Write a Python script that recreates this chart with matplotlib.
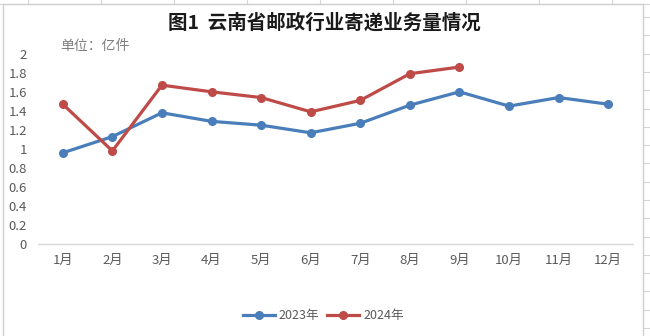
import numpy as np
import matplotlib.pyplot as plt
from matplotlib.lines import Line2D

plt.rcParams['font.family'] = ['Noto Sans CJK SC', 'DejaVu Sans']

# 云南省邮政行业寄递业务量（亿件）
months = ['1月', '2月', '3月', '4月', '5月', '6月',
          '7月', '8月', '9月', '10月', '11月', '12月']
vol_2023 = [0.96, 1.13, 1.38, 1.29, 1.25, 1.17, 1.27, 1.46, 1.60, 1.45, 1.54, 1.47]
vol_2024 = [1.47, 0.98, 1.67, 1.60, 1.54, 1.39, 1.51, 1.79, 1.86]
y_ticks = [0, 0.2, 0.4, 0.6, 0.8, 1, 1.2, 1.4, 1.6, 1.8, 2]

blue = '#4a7ebb'
red = '#be4b48'
grey_text = '#595959'

W, H = 650, 336
fig = plt.figure(figsize=(W / 100, H / 100), dpi=100)

# 工作表网格线（图表框外侧）
grid_c = '#d4d4d4'
for gx in [28, 101, 174, 247, 320, 393, 466, 539, 612]:
    fig.add_artist(Line2D([gx / W, gx / W], [1, 1 - 4 / H], color=grid_c, lw=0.8))
for gy in np.arange(17, H, 18.3):
    fig.add_artist(Line2D([644 / W, 1], [1 - gy / H, 1 - gy / H], color=grid_c, lw=0.8))
fig.add_artist(Line2D([0, 1], [1 - 4 / H, 1 - 4 / H], color=grid_c, lw=0.8))

# 图表边框
bc = '#d0d0d0'
fig.add_artist(Line2D([3 / W, 3 / W], [0, 1 - 4 / H], color=bc, lw=1))
fig.add_artist(Line2D([643 / W, 643 / W], [0, 1 - 4 / H], color=bc, lw=1))
fig.add_artist(Line2D([3 / W, 643 / W], [1 - 4 / H, 1 - 4 / H], color=bc, lw=1))

ax = fig.add_axes([38 / W, 1 - 244.3 / H, 595 / W, 190.6 / H])
x = np.arange(len(months))
ax.plot(x, vol_2023, color=blue, lw=2.3, marker='o', ms=5.5, label='2023年')
ax.plot(x[:len(vol_2024)], vol_2024, color=red, lw=2.3, marker='o', ms=5.5, label='2024年')

ax.set_xlim(-0.5, len(months) - 0.5)
ax.set_ylim(0, 2)
ax.set_xticks(x)
ax.set_xticklabels(months)
ax.set_yticks(y_ticks)
ax.set_yticklabels([f'{v:g}' for v in y_ticks])
ax.tick_params(axis='both', length=0, colors=grey_text, labelsize=9.5)
ax.tick_params(axis='x', pad=7)
ax.tick_params(axis='y', pad=8)
for s in ['top', 'right', 'left']:
    ax.spines[s].set_visible(False)
ax.spines['bottom'].set_color('#d9d9d9')
ax.spines['bottom'].set_linewidth(1)
ax.patch.set_alpha(0)

fig.text(324 / W, 1 - 23 / H, '图1  云南省邮政行业寄递业务量情况', ha='center', va='center',
         fontsize=14, fontweight='bold', color='#1a1a1a')
fig.text(60 / W, 1 - 46 / H, '单位：亿件', ha='left', va='center', fontsize=10, color='#7f7f7f')

fig.legend(loc='center', bbox_to_anchor=(323 / W, 1 - 316 / H), ncol=2, frameon=False,
           fontsize=9, labelcolor=grey_text, handlelength=2.6, handletextpad=0.3,
           columnspacing=0.6)

fig.savefig('out.png', dpi=100)
